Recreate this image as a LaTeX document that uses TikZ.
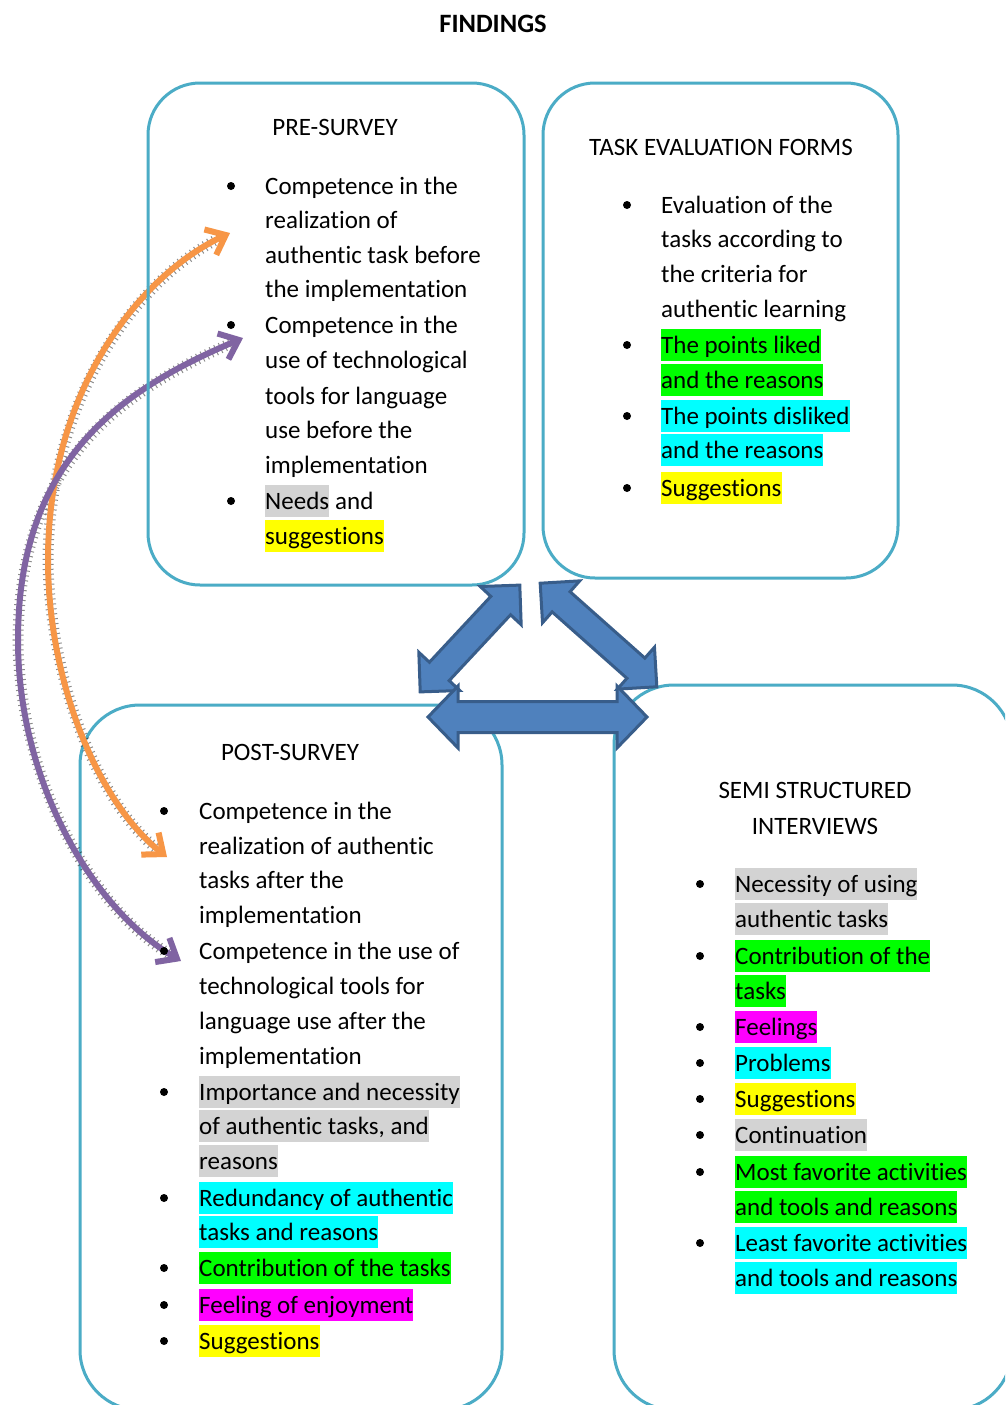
\documentclass[tikz,border=0pt]{standalone}
\usepackage{fontspec}
\setmainfont{Carlito}[Ligatures=NoCommon]
\usetikzlibrary{arrows.meta}

\definecolor{panelblue}{HTML}{4BACC6}
\definecolor{arrowfill}{HTML}{4F81BD}
\definecolor{arrowedge}{HTML}{385D8A}
\definecolor{curveorange}{HTML}{F79646}
\definecolor{curvepurple}{HTML}{8064A2}
\definecolor{hlgray}{HTML}{D3D3D3}
\definecolor{hlgreen}{HTML}{00FF00}
\definecolor{hlcyan}{HTML}{00FFFF}
\definecolor{hlyellow}{HTML}{FFFF00}
\definecolor{hlmagenta}{HTML}{FF00FF}

% one text line: x, baseline y, highlight colour, text
\newcounter{lineno}
\newcommand\li[4]{\stepcounter{lineno}\node[txt,fill=#3] (l\arabic{lineno}) at (#1,#2) {#4};}
% list bullet: name, x, y
\newcommand\bu[3]{\node[dot] (#1) at (#2,#3) {};}
% double block arrow: centre x, centre y, angle, half length, head half width, head length, shaft half width
\newcommand\blockarrow[7]{%
  \begin{scope}[shift={(#1,#2)},rotate=#3]
    \draw[blockarrow] (-#4,0) -- ({-#4+#6},#5) -- ({-#4+#6},#7) -- ({#4-#6},#7) -- ({#4-#6},#5)
      -- (#4,0) -- ({#4-#6},-#5) -- ({#4-#6},-#7) -- ({-#4+#6},-#7) -- ({-#4+#6},-#5) -- cycle;
  \end{scope}}

\tikzset{
  panel/.style={draw=panelblue, line width=3pt, rounded corners=#1, inner sep=0pt, fill=none},
  txt/.style={anchor=base west, inner xsep=0pt, inner ysep=0pt, text height=24pt, text depth=8pt,
    font=\fontsize{25}{30}\selectfont},
  head/.style={anchor=base, inner sep=0pt, font=\fontsize{25}{30}\selectfont},
  dot/.style={circle, fill=black, inner sep=0pt, minimum size=8pt},
  blockarrow/.style={fill=arrowfill, draw=arrowedge, line width=3pt, line join=miter},
  curveline/.style={line width=6pt,
    {Straight Barb[length=17pt,width=28pt]}-{Straight Barb[length=17pt,width=28pt]}},
  curveshade/.style={line width=11pt, black, opacity=0.45, dash pattern=on 1pt off 4pt, shorten <=10pt, shorten >=10pt},
}

\begin{document}
\begin{tikzpicture}[x=1pt,y=-1pt]
\useasboundingbox (0,0) rectangle (1005,1405);
\clip (0,0) rectangle (1005,1405);
\fill[white] (0,0) rectangle (1005,1405);

\node[head, font=\fontsize{26.5}{30}\selectfont\bfseries] (title) at (493,33) {FINDINGS};

% the four panels
\node[panel=60pt, minimum width=422pt, minimum height=705pt] (post) at (291,1057.5) {};
\node[panel=60pt, minimum width=398pt, minimum height=725pt] (semi) at (813,1047.5) {};
\node[panel=52pt, minimum width=355pt, minimum height=495pt] (task) at (720.5,330.5) {};

% curved links between the pre- and post-survey competences
\coordinate (oa) at (230,233);
\coordinate (om) at (48,560);
\coordinate (ob) at (167,857);
\coordinate (pa) at (243,338);
\coordinate (pm) at (18,640);
\coordinate (pb) at (181,961);
\begin{scope}[shift={(1.5,1.5)}]
  \draw[curveshade] (ob) .. controls (97,802) and (48,680) .. (om) .. controls (48,390) and (140,275) .. (oa);
  \draw[curveshade] (pb) .. controls (91,908) and (18,780) .. (pm) .. controls (18,460) and (120,390) .. (pa);
\end{scope}
\draw[curveline, curveorange] (ob) .. controls (97,802) and (48,680) .. (om) .. controls (48,390) and (140,275) .. (oa);
\draw[curveline, curvepurple] (pb) .. controls (91,908) and (18,780) .. (pm) .. controls (18,460) and (120,390) .. (pa);

\node[panel=52pt, minimum width=376pt, minimum height=502pt] (pre) at (336,334) {};

% block arrows between the panels
\blockarrow{470}{638.5}{47}{73}{28}{28}{13.5}
\blockarrow{598.5}{635}{-41.6}{78}{28}{28}{13.5}
\blockarrow{537.5}{717}{0}{109.5}{31}{30}{15.5}

% PRE-SURVEY
\node[head] (preh) at (335,135) {PRE-SURVEY};
\bu{pb1}{231}{186}
\li{265}{194}{none}{Competence in the}
\li{265}{228}{none}{realization of}
\li{265}{263}{none}{authentic task before}
\li{265}{297}{none}{the implementation}
\bu{pb2}{231}{325}
\li{265}{333}{none}{Competence in the}
\li{265}{368}{none}{use of technological}
\li{265}{404}{none}{tools for language}
\li{265}{438}{none}{use before the}
\li{265}{473}{none}{implementation}
\bu{pb3}{231}{501}
\li{265}{509}{hlgray}{Needs}
\node[txt] (needsand) at ([xshift=5.65pt]l10.base east) {and};
\li{265}{544}{hlyellow}{suggestions}

% TASK EVALUATION FORMS
\node[head] (taskh) at (721,155) {TASK EVALUATION FORMS};
\bu{tb1}{627}{205}
\li{661}{213}{none}{Evaluation of the}
\li{661}{247}{none}{tasks according to}
\li{661}{282}{none}{the criteria for}
\li{661}{317}{none}{authentic learning}
\bu{tb2}{627}{345}
\li{661}{353}{hlgreen}{The points liked}
\li{661}{388}{hlgreen}{and the reasons}
\bu{tb3}{627}{416}
\li{661}{424}{hlcyan}{The points disliked}
\li{661}{458}{hlcyan}{and the reasons}
\bu{tb4}{627}{488}
\li{661}{496}{hlyellow}{Suggestions}

% POST-SURVEY
\node[head] (posth) at (290,760) {POST-SURVEY};
\bu{qb1}{164}{811}
\li{199}{819}{none}{Competence in the}
\li{199}{854}{none}{realization of authentic}
\li{199}{888}{none}{tasks after the}
\li{199}{923}{none}{implementation}
\bu{qb2}{164}{951}
\li{199}{959}{none}{Competence in the use of}
\li{199}{994}{none}{technological tools for}
\li{199}{1029}{none}{language use after the}
\li{199}{1064}{none}{implementation}
\bu{qb3}{164}{1092}
\li{199}{1100}{hlgray}{Importance and necessity}
\li{199}{1134}{hlgray}{of authentic tasks, and}
\li{199}{1169}{hlgray}{reasons}
\bu{qb4}{164}{1198}
\li{199}{1206}{hlcyan}{Redundancy of authentic}
\li{199}{1240}{hlcyan}{tasks and reasons}
\bu{qb5}{164}{1268}
\li{199}{1276}{hlgreen}{Contribution of the tasks}
\bu{qb6}{164}{1305}
\li{199}{1313}{hlmagenta}{Feeling of enjoyment}
\bu{qb7}{164}{1341}
\li{199}{1349}{hlyellow}{Suggestions}

% SEMI STRUCTURED INTERVIEWS
\node[head] (semih1) at (815,798) {SEMI STRUCTURED};
\node[head] (semih2) at (815,834) {INTERVIEWS};
\bu{sb1}{700}{884}
\li{735}{892}{hlgray}{Necessity of using}
\li{735}{927}{hlgray}{authentic tasks}
\bu{sb2}{700}{956}
\li{735}{964}{hlgreen}{Contribution of the}
\li{735}{999}{hlgreen}{tasks}
\bu{sb3}{700}{1027}
\li{735}{1035}{hlmagenta}{Feelings}
\bu{sb4}{700}{1063}
\li{735}{1071}{hlcyan}{Problems}
\bu{sb5}{700}{1099}
\li{735}{1107}{hlyellow}{Suggestions}
\bu{sb6}{700}{1135}
\li{735}{1143}{hlgray}{Continuation}
\bu{sb7}{700}{1172}
\li{735}{1180}{hlgreen}{Most favorite activities}
\li{735}{1215}{hlgreen}{and tools and reasons}
\bu{sb8}{700}{1243}
\li{735}{1251}{hlcyan}{Least favorite activities}
\li{735}{1286}{hlcyan}{and tools and reasons}
\end{tikzpicture}
\end{document}
